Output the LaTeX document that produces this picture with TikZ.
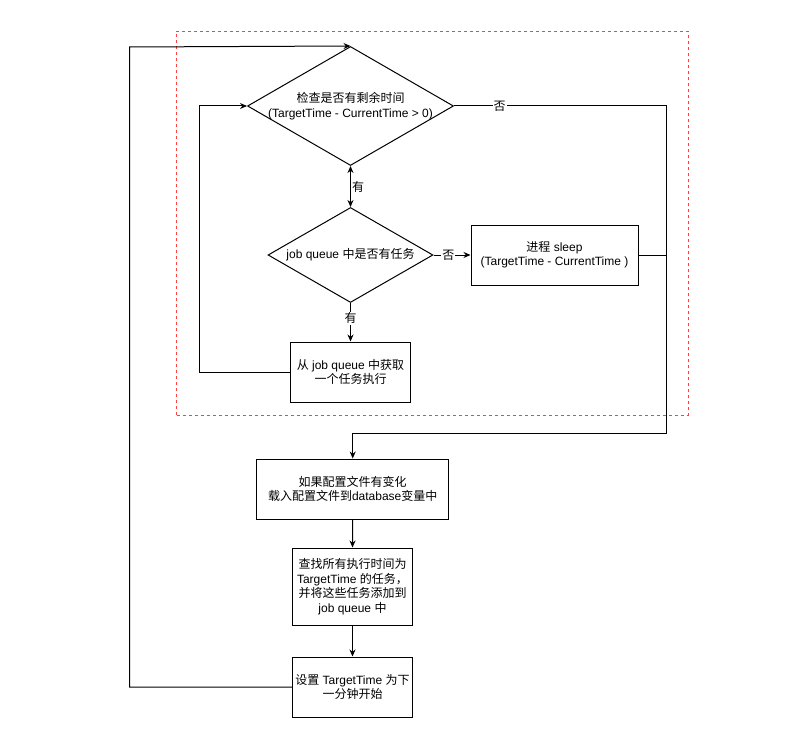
\documentclass[tikz,border=0pt]{standalone}
\usepackage{fontspec}
\setmainfont{Liberation Sans}
\newfontfamily\cjk{Noto Sans CJK SC}
\usetikzlibrary{shapes.geometric,arrows.meta}
\begin{document}
\begin{tikzpicture}[x=1pt,y=-1pt,line width=1pt,
  txt/.style={font=\fontsize{12}{14.5}\selectfont,align=center,inner sep=0pt},
  box/.style={draw,rectangle,inner sep=0pt,font=\fontsize{12}{14.5}\selectfont,align=center},
  dia/.style={draw,diamond,inner sep=0pt},
  arr/.style={-{Stealth[length=7pt,width=6pt]}},
  lbl/.style={fill=white,inner sep=1pt,font=\fontsize{12}{14}\selectfont},
  group/.style={draw=red!75,line width=0.8pt,dash pattern=on 3pt off 3pt}]
\useasboundingbox (0,0) rectangle (800,738);
% group frame
\node[group,rectangle,minimum width=511.3pt,minimum height=384pt,inner sep=0pt] (grp) at (432.35,223) {};
% diamonds
\node[dia,minimum width=206pt,minimum height=119pt] (d1) at (350.5,106) {};
\node[txt] (d1t) at (d1) {{\cjk 检查是否有剩余时间}\\(TargetTime - CurrentTime > 0)};
\node[dia,minimum width=165pt,minimum height=95pt] (d2) at (350.5,255) {};
\node[txt] (d2t) at (d2) {job queue {\cjk 中是否有任务}};
% boxes
\node[box,minimum width=167pt,minimum height=60pt] (sl) at (554.5,255) {{\cjk 进程} sleep\\(TargetTime - CurrentTime )};
\node[box,minimum width=120pt,minimum height=60pt] (b2) at (350.5,372) {{\cjk 从} job queue {\cjk 中获取}\\{\cjk 一个任务执行}};
\node[box,minimum width=192pt,minimum height=60pt] (b3) at (352.7,489) {{\cjk 如果配置文件有变化}\\{\cjk 载入配置文件到}database{\cjk 变量中}};
\node[box,minimum width=120.5pt,minimum height=77pt] (b4) at (352.5,586.5) {{\cjk 查找所有执行时间为}\\TargetTime {\cjk 的任务，}\\{\cjk 并将这些任务添加到}\\job queue {\cjk 中}};
\node[box,minimum width=120.5pt,minimum height=60pt] (b5) at (352.5,687) {{\cjk 设置} TargetTime {\cjk 为下}\\{\cjk 一分钟开始}};
% helper coordinates
\coordinate (rc) at (666.7,433);
\coordinate (lc) at (199.5,106);
\coordinate (tc) at (129.5,47);
% connectors
\draw[arr] (d1.east) -- node[lbl,pos=0.215]{\cjk 否} (d1.east -| rc) -- (rc) -- (rc -| b3.north) -- (b3.north);
\draw[{Stealth[length=7pt,width=6pt]}-{Stealth[length=7pt,width=6pt]}] (d1.south) -- node[anchor=west,inner sep=1pt,font=\fontsize{12}{14}\selectfont]{\cjk 有} (d2.north);
\draw[arr] (d2.east) -- node[lbl,pos=0.4]{\cjk 否} (sl.west);
\draw (sl.east) -- (sl.east -| rc);
\draw[arr] (d2.south) -- node[lbl,pos=0.4]{\cjk 有} (b2.north);
\draw[arr] (b2.west) -| (lc) -- (d1.west);
\draw[arr] (b3.south) -- (b4.north);
\draw[arr] (b4.south) -- (b5.north);
\draw[arr] (b5.west) -| (tc) -- (d1.north);
\end{tikzpicture}
\end{document}
